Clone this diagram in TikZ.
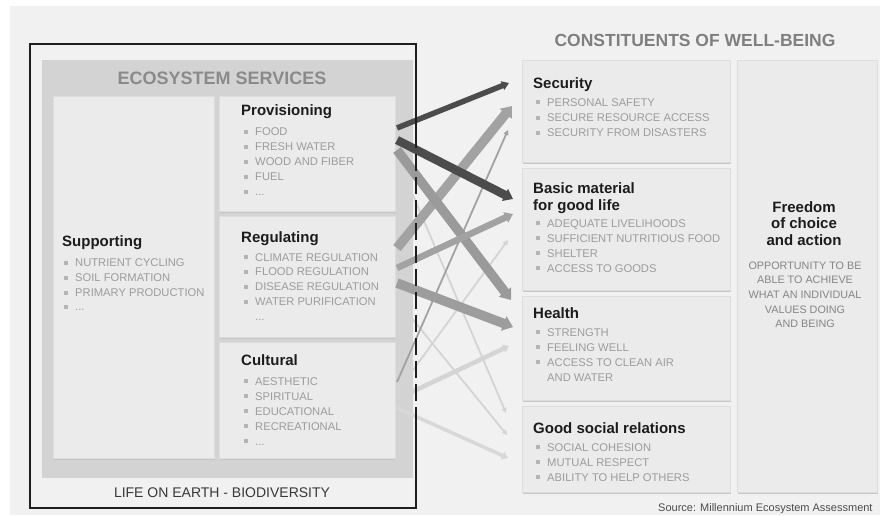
\documentclass[tikz,border=0pt]{standalone}
\usepackage{fontspec}
\setmainfont{Liberation Sans}
\usetikzlibrary{arrows.meta,shadows,calc}
\definecolor{pagebg}{HTML}{F1F1F1}
\definecolor{panelc}{HTML}{D3D3D3}
\definecolor{boxfill}{HTML}{EBEBEB}
\definecolor{boxline}{HTML}{DDDDDD}
\definecolor{shadowc}{HTML}{C6C6C6}
\definecolor{titlec}{HTML}{8A8A8A}
\definecolor{headc}{HTML}{1C1C1C}
\definecolor{itemc}{HTML}{9C9C9C}
\definecolor{bulc}{HTML}{B4B4B4}
\definecolor{framec}{HTML}{1E1E1E}
\definecolor{darkarr}{HTML}{4C4C4C}
\definecolor{midarr}{HTML}{A2A2A2}
\definecolor{lightarr}{HTML}{D4D4D4}
\newcommand\bul{\makebox[11.5pt][l]{\textcolor{bulc}{\rule[1.6pt]{4pt}{4pt}}}}
\newcommand\dotsitem{...}
\newcommand\itemlist[5]{%
  \foreach \t [count=\i] in {#5} {\node[itm] (#1-\i) at (#2,{#3+#4*(\i-1)}) {\bul\t};}}
\begin{document}
\begin{tikzpicture}[x=1pt,y=-1pt,
  box/.style={draw=boxline, fill=boxfill, line width=0.5pt, inner sep=0pt, anchor=north west,
    drop shadow={shadow xshift=0.6pt, shadow yshift=-1.8pt, fill=shadowc, opacity=1}},
  head/.style={font=\fontsize{15}{16}\selectfont\bfseries, text=headc, anchor=base west, inner sep=0pt},
  itm/.style={font=\fontsize{11.2}{12}\selectfont, text=itemc, anchor=base west, inner sep=0pt},
  frame/.style={draw=framec, line width=1.7pt},
  thickarr/.style={line width=9.5pt, -{Triangle[width=15pt,length=10pt]}},
  medarr/.style={line width=6.5pt, -{Triangle[width=11pt,length=8pt]}},
  thinarr/.style={line width=1.8pt, -{Triangle[width=5pt,length=5pt]}},
  lightmed/.style={line width=4.5pt, -{Triangle[width=8pt,length=6pt]}}
]
\useasboundingbox (0,0) rectangle (880,515);
\fill[white] (0,0) rectangle (880,515);
\fill[pagebg] (10,6) rectangle (880,515);

% ecosystem services panel
\node[fill=panelc, inner sep=0pt, anchor=north west, minimum width=371, minimum height=418] (panel) at (42,60) {};
\node[font=\fontsize{18}{20}\selectfont\bfseries, text=titlec] (estitle) at (222,78) {ECOSYSTEM SERVICES};

% service boxes
\node[box, minimum width=161, minimum height=362] (supp) at (53,96) {};
\node[box, minimum width=176, minimum height=115] (prov) at (219,96) {};
\node[box, minimum width=176, minimum height=121] (reg) at (219,216) {};
\node[box, minimum width=176, minimum height=116] (cult) at (219,342) {};

% well-being boxes
\node[font=\fontsize{17.5}{20}\selectfont\bfseries, text=titlec!92!black] (wbtitle) at (695,40) {CONSTITUENTS OF WELL-BEING};
\node[box, minimum width=208, minimum height=102] (sec) at (522,60) {};
\node[box, minimum width=208, minimum height=122] (basic) at (522,168) {};
\node[box, minimum width=208, minimum height=104] (health) at (522,296) {};
\node[box, minimum width=208, minimum height=86] (social) at (522,406) {};
\node[box, minimum width=140, minimum height=432] (free) at (737,60) {};

% texts: services
\node[head] (supph) at (62,246) {Supporting};
\itemlist{suppi}{63.5}{266.5}{14.8}{NUTRIENT CYCLING,SOIL FORMATION,PRIMARY PRODUCTION,\dotsitem}
\node[head] (provh) at (241,115) {Provisioning};
\itemlist{provi}{243.5}{135.5}{15.1}{FOOD,FRESH WATER,WOOD AND FIBER,FUEL,\dotsitem}
\node[head] (regh) at (241,242) {Regulating};
\itemlist{regi}{243.5}{261}{14.7}{CLIMATE REGULATION,FLOOD REGULATION,DISEASE REGULATION,WATER PURIFICATION}
\node[itm] (regi-5) at (255,320) {\dotsitem};
\node[head] (culth) at (241,365) {Cultural};
\itemlist{culti}{243.5}{385}{15}{AESTHETIC,SPIRITUAL,EDUCATIONAL,RECREATIONAL,\dotsitem}

% texts: well-being
\node[head] (sech) at (533,88) {Security};
\itemlist{seci}{535.5}{106}{15.3}{PERSONAL SAFETY,SECURE RESOURCE ACCESS,SECURITY FROM DISASTERS}
\node[head] (basich1) at (533,193) {Basic material};
\node[head] (basich2) at (533,210) {for good life};
\itemlist{basici}{535.5}{227}{15}{ADEQUATE LIVELIHOODS,SUFFICIENT NUTRITIOUS FOOD,SHELTER,ACCESS TO GOODS}
\node[head] (healthh) at (533,318) {Health};
\itemlist{healthi}{535.5}{336}{15}{STRENGTH,FEELING WELL,ACCESS TO CLEAN AIR}
\node[itm] (healthi-4) at (547,381) {AND WATER};
\node[head] (socialh) at (533,433) {Good social relations};
\itemlist{sociali}{535.5}{451}{15}{SOCIAL COHESION,MUTUAL RESPECT,ABILITY TO HELP OTHERS}

\foreach \t [count=\i] in {Freedom,of choice,and action}
  \node[head, anchor=base] (freeh-\i) at (804,{212+16.5*(\i-1)}) {\t};
\foreach \t [count=\i] in {OPPORTUNITY TO BE,ABLE TO ACHIEVE,WHAT AN INDIVIDUAL,VALUES DOING,AND BEING}
  \node[itm, anchor=base, font=\fontsize{10.8}{12}\selectfont, text=itemc!85!black] (freei-\i) at (805,{269+14.7*(\i-1)}) {\t};

% connector end points
\coordinate (p1) at (397,128); \coordinate (p2) at (397,140); \coordinate (p3) at (397,150); \coordinate (p4) at (397,158);
\coordinate (r1) at (397,248); \coordinate (r2) at (397,268); \coordinate (r3) at (397,283); \coordinate (r4) at (397,300);
\coordinate (c1) at (397,382); \coordinate (c2) at (397,392); \coordinate (c3) at (397,399); \coordinate (c4) at (397,408);
\coordinate (s1) at (509,83); \coordinate (s2) at (512,106); \coordinate (s3) at (508,130);
\coordinate (b1) at (513,199); \coordinate (b2) at (513,214); \coordinate (b3) at (508,240);
\coordinate (h1) at (511,300); \coordinate (h2) at (513,327); \coordinate (h3) at (509,346);
\coordinate (g1) at (506,413); \coordinate (g2) at (507,435); \coordinate (g3) at (508,458);

% light
\draw[thinarr, draw=lightarr, fill=lightarr] (p4) -- (g1);
\draw[thinarr, draw=lightarr, fill=lightarr] (r4) -- (g2);
\draw[thinarr, draw=lightarr, fill=lightarr] (c2) -- (b3);
\draw[lightmed, draw=lightarr, fill=lightarr] (c3) -- (h3);
\draw[lightmed, line width=3.5pt, draw=lightarr!90!white, fill=lightarr!90!white] (c4) -- (g3);
% medium gray
\draw[thinarr, draw=midarr, fill=midarr] (c1) -- (s3);
\draw[thickarr, draw=midarr, fill=midarr] (r1) -- (s2);
\draw[thickarr, draw=midarr!95!black, fill=midarr!95!black] (p3) -- (h1);
\draw[medarr, draw=midarr, fill=midarr] (r2) -- (b2);
\draw[thickarr, draw=midarr!97!black, fill=midarr!97!black] (r3) -- (h2);
% dark
\draw[line width=5.5pt, -{Triangle[width=9pt,length=7pt]}, draw=darkarr, fill=darkarr] (p1) -- (s1);
\draw[line width=8.5pt, -{Triangle[width=13pt,length=9pt]}, draw=darkarr, fill=darkarr] (p2) -- (b1);

% life on earth frame
\draw[frame] (416,131) -- (416,44) -- (30,44) -- (30,508) -- (416,508) -- (416,415);
\draw[frame, dash pattern=on 17pt off 6pt] (416,131) -- (416,415);
\node[font=\fontsize{14}{16}\selectfont, text=black!78] (lifetitle) at (222,493) {LIFE ON EARTH - BIODIVERSITY};

% source
\node[font=\fontsize{11}{12}\selectfont, text=black!70, anchor=base west, inner sep=0pt] (source) at (658,511) {Source: Millennium Ecosystem Assessment};
\end{tikzpicture}
\end{document}
